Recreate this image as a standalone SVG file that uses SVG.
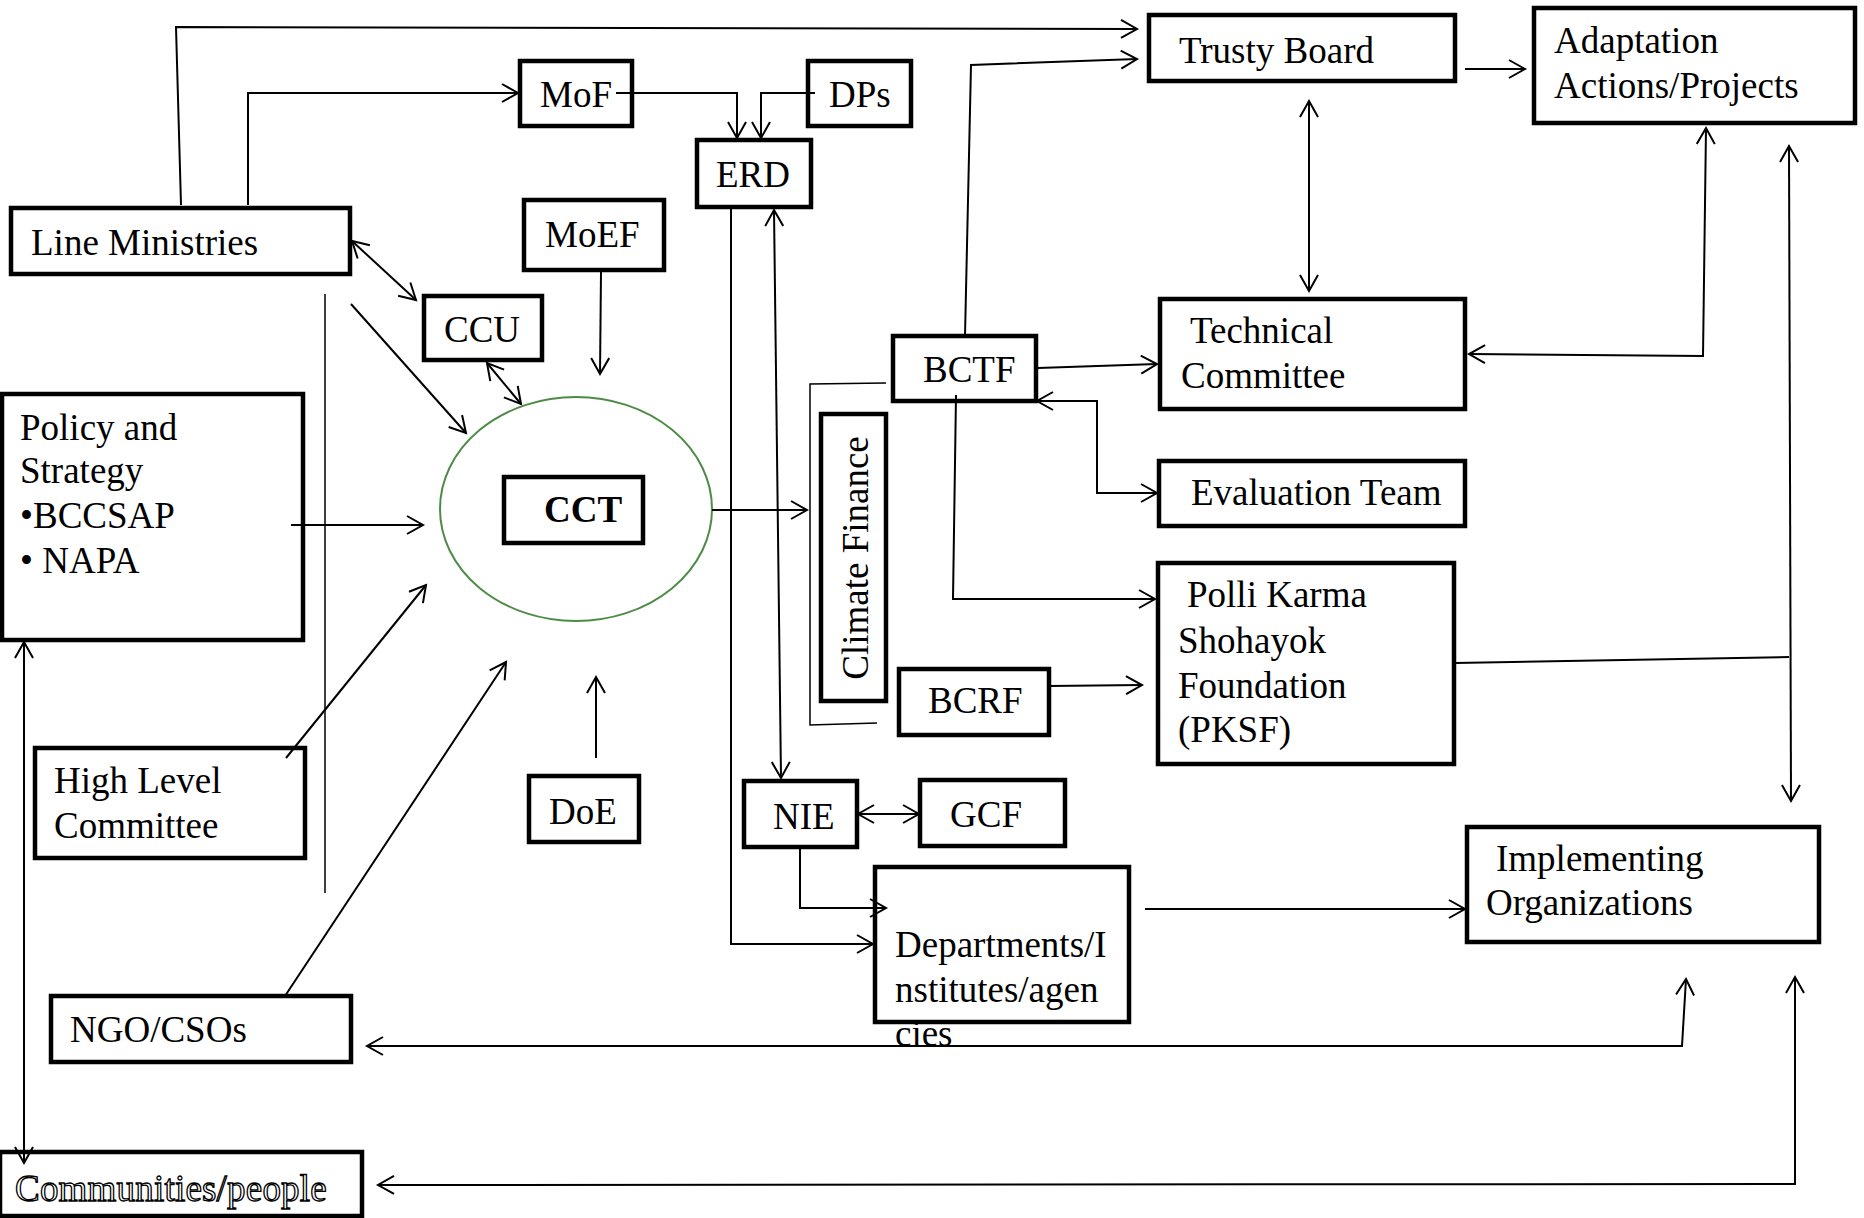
<svg xmlns="http://www.w3.org/2000/svg" width="1864" height="1218" viewBox="0 0 1864 1218">
<style>
.n{fill:#fff;stroke:#000;stroke-width:4.5}
.t{font-family:"Liberation Serif","Times New Roman",serif;font-size:37px;fill:#000}
.c line,.c polyline{fill:none;stroke:#000;stroke-width:2}
.c .thin{stroke-width:1.5}
</style>
<defs>
<marker id="a" markerUnits="userSpaceOnUse" viewBox="0 0 20 20" markerWidth="20" markerHeight="20" refX="17" refY="10" orient="auto-start-reverse">
<path d="M1,1 L17,10 L1,19" fill="none" stroke="#000" stroke-width="2"/>
</marker>
</defs>
<rect width="1864" height="1218" fill="#fff"/>

<g id="trusty-board"><rect class="n" x="1149" y="15" width="306" height="66"/><text class="t" x="1179" y="63">Trusty Board</text></g>
<g id="adaptation"><rect class="n" x="1534" y="8" width="321" height="115"/><text class="t" x="1554" y="53">Adaptation</text><text class="t" x="1554" y="98">Actions/Projects</text></g>
<g id="mof"><rect class="n" x="520" y="61" width="112" height="65"/><text class="t" x="540" y="107">MoF</text></g>
<g id="dps"><rect class="n" x="808" y="61" width="103" height="65"/><text class="t" x="829" y="107">DPs</text></g>
<g id="erd"><rect class="n" x="697" y="140" width="114" height="67"/><text class="t" x="716" y="187">ERD</text></g>
<g id="line-ministries"><rect class="n" x="11" y="208" width="339" height="66"/><text class="t" x="31" y="255">Line Ministries</text></g>
<g id="moef"><rect class="n" x="524" y="200" width="140" height="70"/><text class="t" x="545" y="247">MoEF</text></g>
<g id="ccu"><rect class="n" x="424" y="296" width="118" height="64"/><text class="t" x="444" y="342">CCU</text></g>
<g id="cct"><ellipse cx="576" cy="509" rx="136" ry="112" fill="none" stroke="#4f8b48" stroke-width="2"/><rect class="n" x="504" y="477" width="139" height="66"/><text class="t" x="544" y="522" font-weight="bold">CCT</text></g>
<g id="policy"><rect class="n" x="2" y="394" width="301" height="246"/><text class="t" x="20" y="440">Policy and</text><text class="t" x="20" y="483">Strategy</text><text class="t" x="20" y="528">•BCCSAP</text><text class="t" x="20" y="573">• NAPA</text></g>
<g id="bctf"><rect class="n" x="893" y="336" width="143" height="65"/><text class="t" x="923" y="382">BCTF</text></g>
<g id="technical-committee"><rect class="n" x="1160" y="299" width="305" height="110"/><text class="t" x="1190" y="343">Technical</text><text class="t" x="1181" y="388">Committee</text></g>
<g id="evaluation-team"><rect class="n" x="1159" y="461" width="306" height="65"/><text class="t" x="1191" y="505">Evaluation Team</text></g>
<g id="climate-finance"><rect class="n" x="821" y="414" width="65" height="287"/><text class="t" transform="translate(868,558) rotate(-90)" text-anchor="middle">Climate Finance</text></g>
<g id="pksf"><rect class="n" x="1158" y="563" width="296" height="201"/><text class="t" x="1187" y="607">Polli Karma</text><text class="t" x="1178" y="653">Shohayok</text><text class="t" x="1178" y="698">Foundation</text><text class="t" x="1178" y="742">(PKSF)</text></g>
<g id="bcrf"><rect class="n" x="899" y="669" width="150" height="66"/><text class="t" x="928" y="713">BCRF</text></g>
<g id="high-level-committee"><rect class="n" x="35" y="748" width="270" height="110"/><text class="t" x="54" y="793">High Level</text><text class="t" x="54" y="838">Committee</text></g>
<g id="doe"><rect class="n" x="529" y="776" width="110" height="66"/><text class="t" x="549" y="824">DoE</text></g>
<g id="nie"><rect class="n" x="744" y="781" width="113" height="66"/><text class="t" x="773" y="829">NIE</text></g>
<g id="gcf"><rect class="n" x="920" y="780" width="145" height="66"/><text class="t" x="950" y="827">GCF</text></g>
<g id="departments"><rect class="n" x="875" y="867" width="254" height="155"/><text class="t" x="895" y="957">Departments/I</text><text class="t" x="895" y="1002">nstitutes/agen</text><text class="t" x="895" y="1046">cies</text></g>
<g id="implementing"><rect class="n" x="1467" y="827" width="352" height="115"/><text class="t" x="1496" y="871">Implementing</text><text class="t" x="1486" y="915">Organizations</text></g>
<g id="ngo"><rect class="n" x="51" y="996" width="300" height="66"/><text class="t" x="70" y="1042">NGO/CSOs</text></g>
<g id="communities"><rect class="n" x="0" y="1152" width="362" height="64"/><text class="t" x="15" y="1201" style="fill:#fff;stroke:#000;stroke-width:1.3;letter-spacing:0.2px">Communities/people</text></g>

<g id="connectors" class="c">
<polyline points="181,205 176,27 1137,29" marker-end="url(#a)"/>
<polyline points="248,205 248,93 518,93" marker-end="url(#a)"/>
<polyline points="616,93 737,93 737,138" marker-end="url(#a)"/>
<polyline points="815,93 761,93 761,138" marker-end="url(#a)"/>
<polyline points="965,336 971,65 1137,59" marker-end="url(#a)"/>
<line x1="1465" y1="69" x2="1525" y2="69" marker-end="url(#a)"/>
<line x1="1309" y1="101" x2="1309" y2="291" marker-start="url(#a)" marker-end="url(#a)"/>
<polyline points="1706,128 1703,356 1469,354" marker-start="url(#a)" marker-end="url(#a)"/>
<line x1="1789" y1="146" x2="1791" y2="801" marker-start="url(#a)" marker-end="url(#a)"/>
<line x1="1455" y1="663" x2="1789" y2="657"/>
<line x1="352" y1="241" x2="416" y2="300" marker-start="url(#a)" marker-end="url(#a)"/>
<line x1="351" y1="304" x2="466" y2="433" marker-end="url(#a)"/>
<line x1="487" y1="363" x2="521" y2="404" marker-start="url(#a)" marker-end="url(#a)"/>
<line x1="601" y1="272" x2="600" y2="374" marker-end="url(#a)"/>
<line class="thin" x1="325" y1="294" x2="325" y2="893"/>
<line x1="291" y1="525" x2="423" y2="525" marker-end="url(#a)"/>
<line x1="286" y1="758" x2="426" y2="585" marker-end="url(#a)"/>
<line x1="285" y1="996" x2="506" y2="662" marker-end="url(#a)"/>
<line x1="596" y1="758" x2="596" y2="677" marker-end="url(#a)"/>
<line x1="24" y1="642" x2="24" y2="1163" marker-start="url(#a)" marker-end="url(#a)"/>
<line x1="712" y1="510" x2="807" y2="510" marker-end="url(#a)"/>
<polyline class="thin" points="886,383 810,384 810,725 877,723"/>
<line x1="774" y1="210" x2="781" y2="778" marker-start="url(#a)" marker-end="url(#a)"/>
<polyline points="731,207 731,944 873,944" marker-end="url(#a)"/>
<polyline points="800,847 800,908 886,908" marker-end="url(#a)"/>
<line x1="858" y1="814" x2="919" y2="814" marker-start="url(#a)" marker-end="url(#a)"/>
<line x1="1038" y1="368" x2="1157" y2="364" marker-end="url(#a)"/>
<polyline points="1037,401 1097,401 1097,493 1157,493" marker-start="url(#a)" marker-end="url(#a)"/>
<polyline points="956,395 953,599 1155,599" marker-end="url(#a)"/>
<line x1="1049" y1="686" x2="1142" y2="685" marker-end="url(#a)"/>
<line x1="1145" y1="909" x2="1465" y2="909" marker-end="url(#a)"/>
<polyline points="1686,979 1682,1046 367,1046" marker-start="url(#a)" marker-end="url(#a)"/>
<polyline points="1795,977 1795,1184 378,1185" marker-start="url(#a)" marker-end="url(#a)"/>
</g>
</svg>
